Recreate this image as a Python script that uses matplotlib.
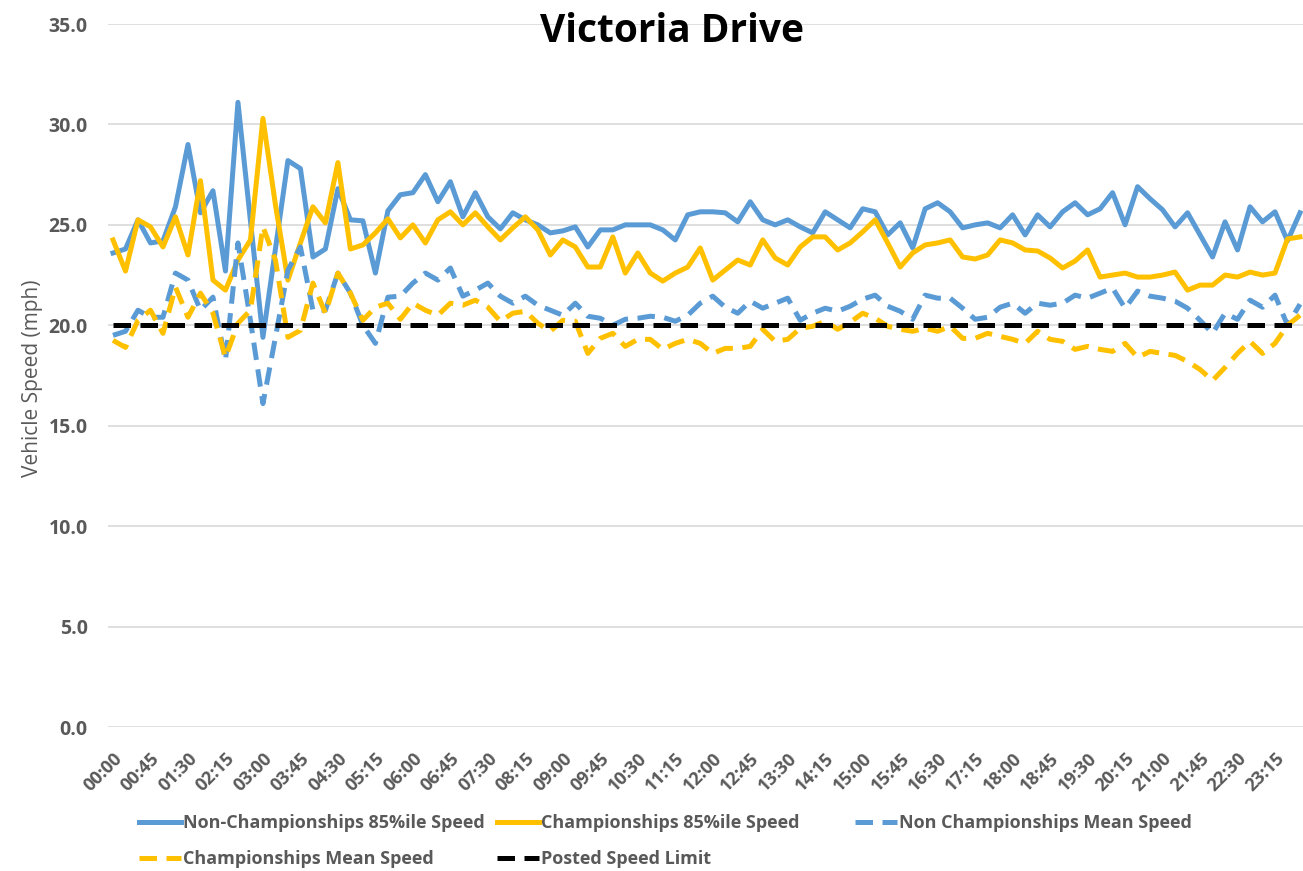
import matplotlib
matplotlib.use("Agg")
import matplotlib.pyplot as plt
import matplotlib.transforms as mtransforms

plt.rcParams['font.family'] = ['Open Sans', 'DejaVu Sans']

# 15-minute intervals, 00:00 .. 23:45
times = [f"{h:02d}:{m:02d}" for h in range(24) for m in (0, 15, 30, 45)]

non_champ_85 = [
    23.6, 23.8, 25.25, 24.1, 24.2, 25.9, 29.0, 25.6, 26.7, 22.7, 31.1, 25.2,
    19.4, 23.8, 28.2, 27.8, 23.4, 23.8, 26.8, 25.25, 25.2, 22.6, 25.7, 26.5,
    26.6, 27.5, 26.15, 27.15, 25.4, 26.6, 25.4, 24.8, 25.6, 25.25, 25.0, 24.6,
    24.7, 24.9, 23.9, 24.75, 24.75, 25.0, 25.0, 25.0, 24.75, 24.25, 25.5, 25.65,
    25.65, 25.6, 25.15, 26.15, 25.25, 25.0, 25.25, 24.9, 24.6, 25.65, 25.25, 24.85,
    25.8, 25.65, 24.5, 25.1, 23.85, 25.8, 26.1, 25.65, 24.85, 25.0, 25.1, 24.85,
    25.5, 24.5, 25.5, 24.9, 25.65, 26.1, 25.5, 25.8, 26.6, 25.0, 26.9, 26.3,
    25.75, 24.9, 25.6, 24.5, 23.4, 25.15, 23.75, 25.9, 25.15, 25.65, 24.2, 25.6,
]
champ_85 = [
    24.25, 22.7, 25.25, 24.9, 23.9, 25.4, 23.5, 27.2, 22.25, 21.75, 23.25, 24.25,
    30.3, 26.0, 22.25, 24.1, 25.9, 25.1, 28.1, 23.8, 24.0, 24.6, 25.3, 24.35,
    25.0, 24.1, 25.25, 25.65, 25.0, 25.6, 24.9, 24.25, 24.85, 25.4, 24.75, 23.5,
    24.25, 23.9, 22.9, 22.9, 24.4, 22.6, 23.6, 22.6, 22.2, 22.6, 22.9, 23.85,
    22.25, 22.75, 23.25, 23.0, 24.25, 23.35, 23.0, 23.9, 24.4, 24.4, 23.75, 24.1,
    24.65, 25.25, 24.1, 22.9, 23.6, 24.0, 24.1, 24.25, 23.4, 23.3, 23.5, 24.25,
    24.1, 23.75, 23.7, 23.35, 22.85, 23.2, 23.75, 22.4, 22.5, 22.6, 22.4, 22.4,
    22.5, 22.65, 21.75, 22.0, 22.0, 22.5, 22.4, 22.65, 22.5, 22.6, 24.3, 24.4,
]
non_champ_mean = [
    19.5, 19.7, 20.75, 20.4, 20.4, 22.6, 22.25, 20.75, 21.4, 18.25, 24.1, 20.25,
    16.1, 19.4, 22.75, 23.9, 20.75, 20.75, 22.6, 21.6, 20.0, 19.1, 21.4, 21.45,
    22.1, 22.6, 22.25, 22.85, 21.45, 21.75, 22.1, 21.45, 21.1, 21.45, 21.0, 20.75,
    20.5, 21.1, 20.45, 20.35, 20.0, 20.3, 20.35, 20.45, 20.4, 20.2, 20.5, 21.1,
    21.45, 20.9, 20.6, 21.2, 20.85, 21.1, 21.35, 20.25, 20.6, 20.85, 20.7, 20.95,
    21.3, 21.5, 20.95, 20.7, 20.3, 21.5, 21.35, 21.35, 20.85, 20.3, 20.4, 20.9,
    21.1, 20.6, 21.1, 21.0, 21.1, 21.5, 21.35, 21.6, 21.85, 20.85, 21.7, 21.45,
    21.35, 21.2, 20.85, 20.25, 19.6, 20.6, 20.3, 21.25, 20.9, 21.5, 20.0, 21.05,
]
champ_mean = [
    19.25, 18.9, 20.25, 20.75, 19.6, 21.9, 20.4, 21.6, 20.6, 18.4, 20.1, 20.75,
    24.9, 23.25, 19.4, 19.75, 22.1, 20.6, 22.6, 21.6, 20.25, 20.9, 21.1, 20.3,
    21.1, 20.75, 20.5, 21.1, 21.0, 21.25, 20.9, 20.2, 20.6, 20.7, 20.1, 19.7,
    20.25, 20.2, 18.6, 19.35, 19.6, 18.95, 19.3, 19.3, 18.8, 19.1, 19.3, 19.1,
    18.6, 18.85, 18.85, 18.95, 19.8, 19.2, 19.3, 19.85, 19.95, 20.2, 19.8, 20.15,
    20.6, 20.35, 19.95, 19.8, 19.7, 19.85, 19.7, 19.95, 19.35, 19.35, 19.6, 19.45,
    19.3, 19.1, 19.7, 19.3, 19.2, 18.8, 18.95, 18.8, 18.7, 19.1, 18.4, 18.7,
    18.6, 18.5, 18.2, 17.8, 17.25, 17.9, 18.6, 19.2, 18.6, 19.1, 20.0, 20.5,
]
speed_limit = [20.0] * len(times)

BLUE = '#5B9BD5'
GOLD = '#FFC000'
GREY = '#595959'

W, H = 1303, 871
fig = plt.figure(figsize=(W / 100, H / 100), dpi=100)
ax = fig.add_axes([108 / W, 1 - 727 / H, 1 - 108 / W, (727 - 24) / H])

x = list(range(len(times)))
lw = 3.6
dash = (3.5, 1.9)
l1, = ax.plot(x, non_champ_85, color=BLUE, lw=lw,
              label='Non-Championships 85%ile Speed')
l2, = ax.plot(x, champ_85, color=GOLD, lw=lw,
              label='Championships 85%ile Speed')
l3, = ax.plot(x, non_champ_mean, color=BLUE, lw=lw, dashes=dash,
              label='Non Championships Mean Speed')
l4, = ax.plot(x, champ_mean, color=GOLD, lw=lw, dashes=dash,
              label='Championships Mean Speed')
l5, = ax.plot(x, speed_limit, color='black', lw=lw, dashes=dash,
              label='Posted Speed Limit')

ax.set_xlim(-0.4, 95.24)
ax.set_ylim(0, 35)
yt = [0, 5, 10, 15, 20, 25, 30, 35]
ax.set_yticks(yt)
ax.set_yticklabels([f"{v:.1f}" for v in yt],
                   fontsize=14, fontweight='bold', color=GREY)
ax.set_xticks(x[::3])
ax.set_xticklabels(times[::3], rotation=45, ha='right', va='top',
                   rotation_mode='anchor', fontsize=13, fontweight='bold',
                   color=GREY)
shift = mtransforms.ScaledTranslation(5 / 100, 0, fig.dpi_scale_trans)
for t in ax.get_xticklabels():
    t.set_transform(t.get_transform() + shift)
ax.tick_params(axis='y', length=0, pad=14.5)
ax.tick_params(axis='x', length=0, pad=16)
ax.grid(axis='y', color='#D9D9D9', lw=1.2)
ax.set_axisbelow(True)
for s in ax.spines.values():
    s.set_visible(False)

fig.text(33 / W, 1 - 378 / H, 'Vehicle Speed (mph)', rotation=90,
         ha='center', va='center', fontsize=15, color=GREY)
fig.text(672 / W, 1 - 32 / H, 'Victoria Drive', ha='center', va='center',
         fontsize=28, fontweight='bold', color='black')

# Excel style legend: equal-width columns, one entry placed at a time
entries = [(l1, 139, 823), (l2, 497, 823), (l3, 855, 823),
           (l4, 139, 859), (l5, 497, 859)]
for line, ex, ey in entries:
    fig.legend([line], [line.get_label()], loc='center left',
               bbox_to_anchor=(ex / W, 1 - ey / H), frameon=False,
               borderpad=0, borderaxespad=0, handlelength=2.3,
               handletextpad=0.12,
               prop={'size': 13, 'weight': 'bold'}, labelcolor=GREY)

fig.savefig('out.png', dpi=100)
